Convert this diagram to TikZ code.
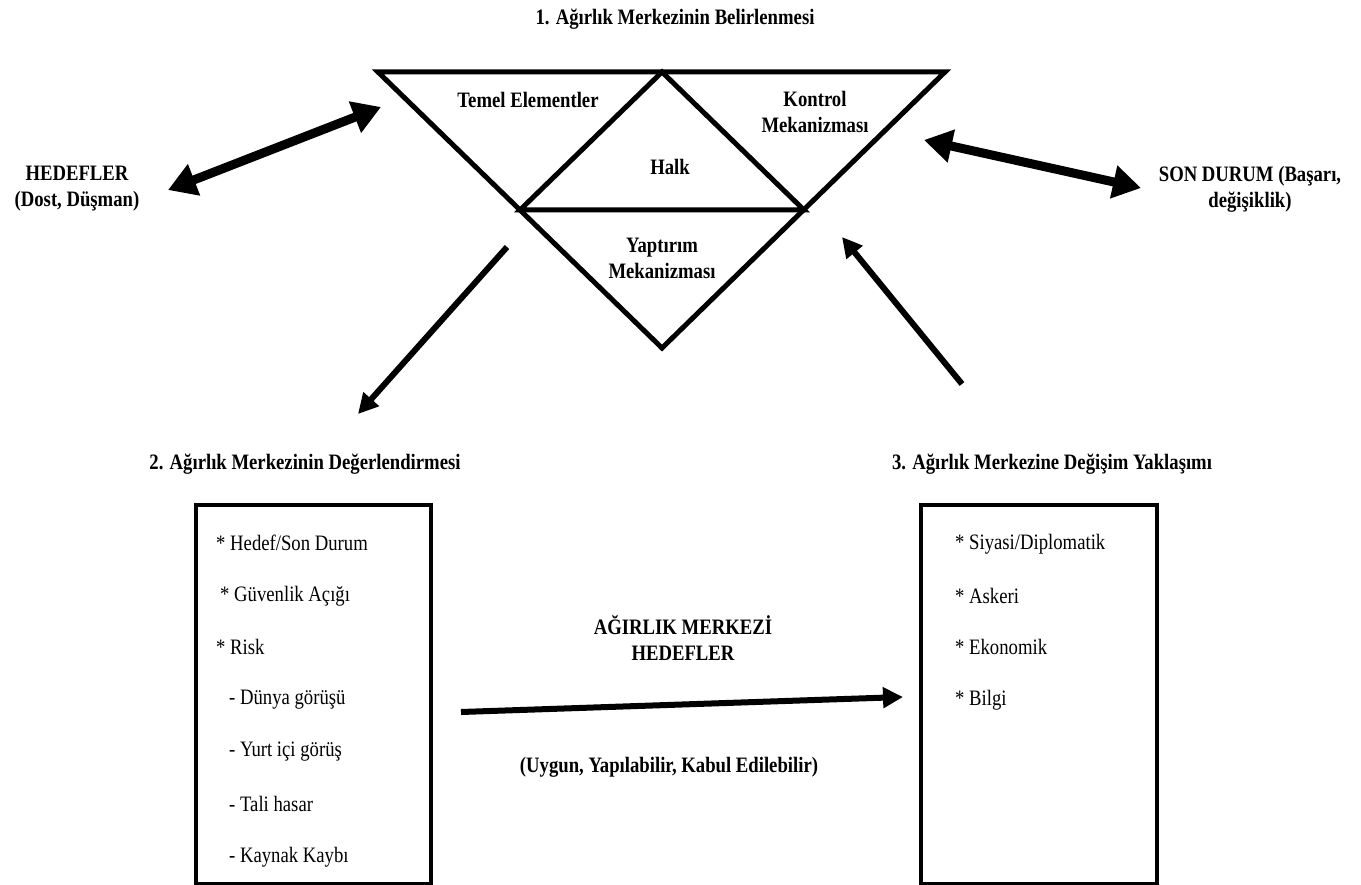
\documentclass[tikz,border=0pt]{standalone}
\usepackage{fontspec}
\setmainfont{Liberation Serif}[FakeStretch=0.85]
\usetikzlibrary{arrows.meta}
\begin{document}
\begin{tikzpicture}[x=1pt,y=-1pt,
  lbl/.style={font=\fontsize{22}{26}\selectfont\bfseries, align=center, inner sep=0pt},
  item/.style={font=\fontsize{22}{26}\selectfont, anchor=west, inner sep=0pt},
  tri/.style={line width=5pt, line join=miter},
  box/.style={draw, line width=4pt},
  bigarrow/.style={line width=9pt, {Triangle[length=28pt,width=32pt]}-{Triangle[length=28pt,width=32pt]}},
  arr/.style={line width=6pt, -{Triangle[length=20pt,width=20pt]}}]
\useasboundingbox (0,0) rectangle (1361,885);

% title
\node[lbl] (t1) at (675,19) {1. Ağırlık Merkezinin  Belirlenmesi};

% triangle
\coordinate (A) at (378,72);
\coordinate (B) at (945,72);
\coordinate (C) at (662,348);
\coordinate (M) at (662,72);
\coordinate (L) at (520,210);
\coordinate (R) at (804,210);
\draw[tri] (A) -- (B) -- (C) -- cycle;
\draw[tri] (L) -- (M) -- (R) -- cycle;

\node[lbl] (temel) at (528,100) {Temel Elementler};
\node[lbl] (kontrol) at (815,112) {Kontrol\\Mekanizması};
\node[lbl] (halk) at (670,167) {Halk};
\node[lbl] (yapt) at (662,258) {Yaptırım\\Mekanizması};

% side labels
\node[lbl] (hed) at (77,189) {HEDEFLER\\(Dost, Düşman)};
\node[lbl] (son) at (1250,189) {SON DURUM (Başarı,\\değişiklik)};

\coordinate (la1) at (168,190);
\coordinate (la2) at (381,107);
\coordinate (ra1) at (924,140);
\coordinate (ra2) at (1141,188);
\draw[bigarrow] (la1) -- (la2);
\draw[bigarrow] (ra1) -- (ra2);

% diagonal arrows
\coordinate (da1) at (507,247);
\coordinate (da2) at (358,414);
\coordinate (ua1) at (962,384);
\coordinate (ua2) at (842,237);
\draw[arr] (da1) -- (da2);
\draw[arr] (ua1) -- (ua2);

% section titles
\node[lbl] (t2) at (305,464) {2. Ağırlık Merkezinin  Değerlendirmesi};
\node[lbl] (t3) at (1052,464) {3. Ağırlık Merkezine  Değişim  Yaklaşımı};

% boxes
\node[box, minimum width=235pt, minimum height=379pt, inner sep=0pt] (box2) at (313.5,694.5) {};
\node[box, minimum width=236pt, minimum height=379pt, inner sep=0pt] (box3) at (1039,694.5) {};

\node[item] (i1) at (216,543) {* Hedef/Son Durum};
\node[item] (i2) at (220,596) {* Güvenlik Açığı};
\node[item] (i3) at (216,647) {* Risk};
\node[item] (i4) at (229,700) {- Dünya  görüşü};
\node[item] (i5) at (229,752) {- Yurt içi görüş};
\node[item] (i6) at (229,804) {- Tali hasar};
\node[item] (i7) at (229,857) {- Kaynak  Kaybı};

\node[item] (j1) at (955,544) {* Siyasi/Diplomatik};
\node[item] (j2) at (955,596) {* Askeri};
\node[item] (j3) at (955,647) {* Ekonomik};
\node[item] (j4) at (955,700) {* Bilgi};

% middle
\node[lbl] (amh) at (683,638) {AĞIRLIK MERKEZİ\\HEDEFLER};
\coordinate (ma1) at (461,712);
\coordinate (ma2) at (903,697);
\draw[arr] (ma1) -- (ma2);
\node[lbl] (uyg) at (669,767) {(Uygun, Yapılabilir,  Kabul Edilebilir)};
\end{tikzpicture}
\end{document}
